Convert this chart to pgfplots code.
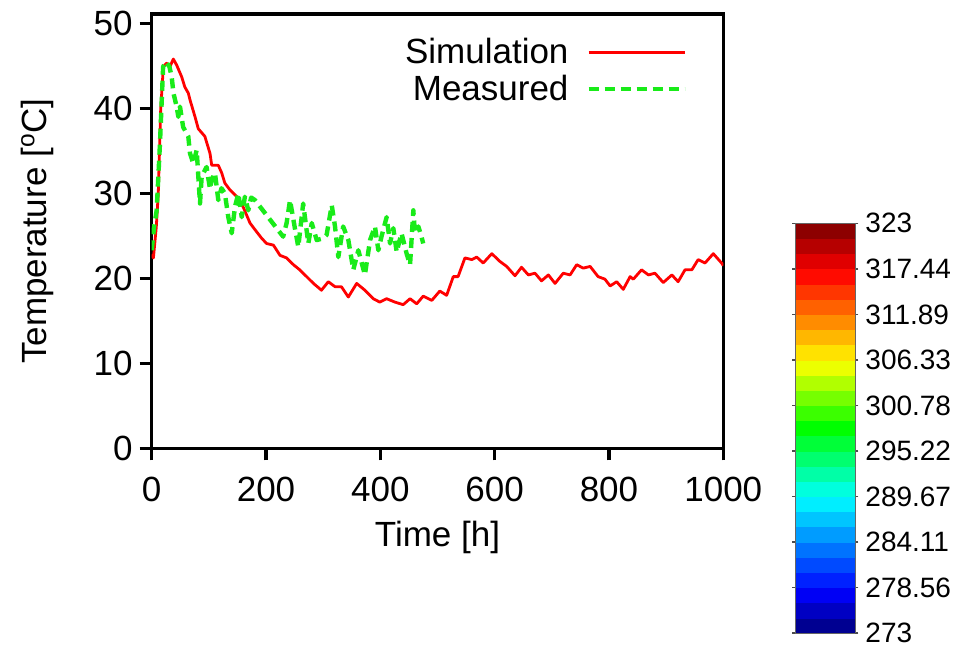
\documentclass[border=0pt]{standalone}
\usepackage{fontspec}
\setmainfont{Liberation Sans}
\usepackage{pgfplots}
\pgfplotsset{compat=1.18}

\definecolor{simred}{RGB}{255,0,0}
\definecolor{measgreen}{RGB}{25,235,25}

\pgfplotsset{
  colormap={tempjet}{rgb255(0cm)=(0,0,120) rgb255(10cm)=(0,0,255)
    rgb255(33cm)=(0,255,255) rgb255(50cm)=(0,255,0) rgb255(66cm)=(255,255,0)
    rgb255(88cm)=(255,0,0) rgb255(100cm)=(120,0,0)},
}

\begin{document}
\begin{tikzpicture}
\begin{axis}[
  name=main,
  scale only axis,
  width=285.8pt, height=217.15pt,
  xmin=0, xmax=1000, ymin=0, ymax=51.1,
  xtick={0,200,...,1000}, ytick={0,10,...,50},
  tick align=outside, xtick pos=bottom, ytick pos=left,
  major tick length=6pt,
  axis line style={line width=1.6pt},
  every tick/.style={black, line width=1.6pt},
  tick label style={font=\fontsize{17.5}{21}\selectfont},
  xticklabel style={yshift=-5pt},
  label style={font=\fontsize{17.5}{21}\selectfont},
  /pgf/number format/assume math mode=true,
  /pgf/number format/1000 sep={},
  xlabel={Time [h]}, ylabel={Temperature [\textsuperscript{o}C]},
  xlabel style={at={(axis description cs:0.5,-0.205)}, anchor=center},
  ylabel style={at={(axis description cs:-0.1995,0.5)}, anchor=center},
  legend plot pos=right,
  legend cell align=right,
  legend image code/.code={\draw[#1] (0pt,0pt) -- (48pt,0pt);},
  legend style={draw=none, fill=none, inner xsep=0pt, inner ysep=0pt,
    at={(rel axis cs:0.937,0.869)}, anchor=east,
    font=\fontsize{17.5}{21}\selectfont, column sep=7pt},
  colormap name=tempjet,
  point meta min=273, point meta max=323,
  colorbar sampled,
  colorbar style={
    at={(parent axis.south east)}, anchor=north west,
    xshift=27.5pt, yshift=112.5pt,
    scale only axis, width=30pt, height=204.9pt,
    samples=28,
    ymin=273, ymax=323,
    ytick={273,278.56,284.11,289.67,295.22,300.78,306.33,311.89,317.44,323},
    yticklabels={273,278.56,284.11,289.67,295.22,300.78,306.33,311.89,317.44,323},
    yticklabel pos=right,
    tick align=outside, major tick length=1.5pt,
    every tick/.style={black!70, line width=0.8pt},
    axis line style={line width=0.6pt, draw=black!60},
    tick label style={font=\fontsize{14}{16}\selectfont},
  },
]
% simulation
\addplot[simred, line width=1.4pt, line join=round] coordinates {
  (0,22.8) (3,22.4) (8,26) (11.5,30) (15.7,39.8) (20.4,44.9) (26,45.3) (32,44.9)
  (37.8,45.8) (43.6,45.1) (52.5,43.7) (58,42.5) (64,41.8) (67,41.0) (75.8,39.0)
  (81.5,37.6) (93,36.7) (102,34.7) (105,33.3) (116.5,33.3) (122.5,32.4) (128,31.2)
  (137,30.4) (149,29.6) (160,28.4) (172,26.5) (181,25.7) (192.5,24.7) (201,24.1)
  (213,23.9) (224.5,22.7) (236,22.4) (248,21.6) (259,21.0) (271,20.2) (283,19.4)
  (297,18.6) (309,19.6) (321,19.0) (332,19.0) (344,17.8) (358.6,19.4) (373,18.6)
  (387.7,17.6) (399,17.2) (411,17.6) (425.6,17.2) (440,16.9) (452,17.6) (463.6,17.0)
  (475,17.9) (490,17.4) (504,18.5) (516,18.0) (527.6,20.2) (536,20.2) (548,22.4)
  (560,22.2) (568.6,22.5) (580,21.8) (595,22.9) (609,22.0) (621,21.4) (635.6,20.3)
  (647,21.3) (659,20.4) (670.6,20.6) (682,19.7) (694,20.4) (705.6,19.4) (720,20.6)
  (732,20.4) (743.5,21.6) (755,21.2) (767,21.4) (781,20.2) (793,19.9) (802,19.1)
  (813.5,19.6) (825,18.7) (837,20.2) (842.6,19.9) (857,21.0) (869,20.4) (880.5,20.6)
  (895,19.5) (910,20.4) (921,19.6) (933,21.0) (945,21.0) (956,22.2) (968,21.8)
  (982.5,22.9) (997,21.8) (1000,21.5)
};
\addlegendentry{Simulation}
% measured
\addplot[measgreen, line width=2.2pt, dash pattern=on 5pt off 3pt, line join=round] coordinates {
  (0,23.3) (4,26) (8.7,28) (14.5,35.9) (20,44.9) (25,45.5) (31,44.9) (35,43.7)
  (38,41.8) (43.7,40.2) (46.6,39.0) (49.5,40.2) (55,37.8) (64,36.7) (67,34.7)
  (72.8,33.5) (78.7,35.1) (84.5,28.8) (87.5,32.0) (96,33.1) (102,30.5) (105,31.6)
  (110.7,32.4) (116.5,29.2) (122,30.6) (128,30.0) (134,27.2) (140,25.3) (145.7,28.4)
  (151.5,30.0) (157.5,27.2) (163,29.6) (169,28.0) (174,29.5) (180.7,29.2)
  (230,24.9) (236,26.5) (242,29.2) (251,25.7) (256.5,23.7) (265,28.8) (274,24.1)
  (280,26.5) (288.7,24.5) (300,24.7) (306,25.1) (315,28.6) (320.7,26.1) (326.5,22.5)
  (335,26.1) (344,24.5) (352.7,21.0) (361.5,23.3) (373,20.4) (382,24.5) (390.6,26.1)
  (396.5,23.3) (402,24.9) (411,27.2) (417,24.1) (422.7,25.9) (428.6,23.1) (437,25.3)
  (446,22.9) (452,21.6) (457.7,28.0) (460.6,25.3) (466.5,26.1) (472,24.9) (475,24.1)
};
\addlegendentry{Measured}
\end{axis}
\path (main.south west) ++(-75.85pt,-98.85pt) rectangle ++(480pt,323pt);
\end{tikzpicture}
\end{document}
